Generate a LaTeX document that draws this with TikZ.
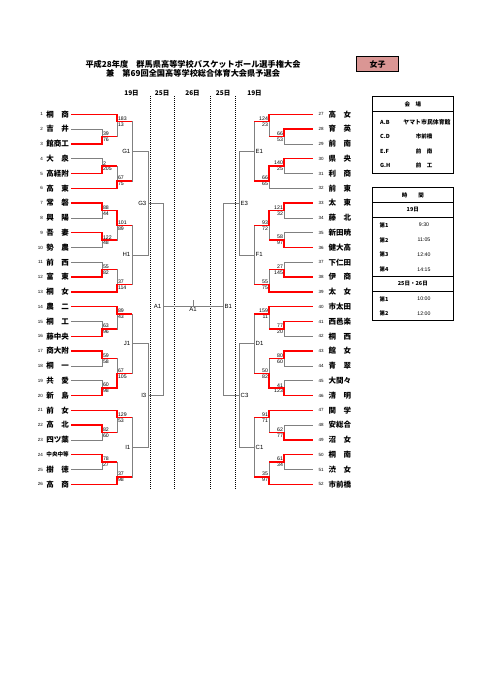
\documentclass[tikz,border=0pt]{standalone}
\usepackage{fontspec}
\setmainfont{Noto Sans CJK JP}
\newfontfamily\numfont{Liberation Sans}
\usetikzlibrary{positioning}

\definecolor{boxpink}{HTML}{DA9694}
\definecolor{losegray}{HTML}{808080}

\begin{document}
\begin{tikzpicture}[
  x=1pt, y=-1pt,
  title/.style={font=\fontsize{8.2}{9}\selectfont\bfseries, inner sep=0pt},
  day/.style={font=\fontsize{6.5}{7}\selectfont\bfseries, inner sep=0pt},
  team/.style={font=\fontsize{7.5}{8}\selectfont\bfseries, inner sep=2pt},
  lteam/.style={team, left, label distance=3pt},
  rteam/.style={team, right, label distance=0pt},
  num/.style={font=\numfont\fontsize{4.5}{5}\selectfont, inner sep=1pt},
  rnum/.style={num, text width=8pt, align=right, inner xsep=2.5pt},
  sc/.style={font=\numfont\fontsize{5.2}{5.5}\selectfont, inner sep=0.9pt},
  rnd/.style={font=\numfont\fontsize{6}{6}\selectfont, inner sep=1.5pt},
  lose/.style={draw=losegray, line width=0.75pt},
  win/.style={draw=red, line width=1.5pt},
  dots/.style={line width=1pt, dash pattern=on 1pt off 1pt},
  tbl/.style={line width=1pt},
  cell/.style={font=\fontsize{5.5}{6}\selectfont\bfseries, inner sep=0pt},
  clock/.style={font=\numfont\fontsize{5.2}{6}\selectfont, inner sep=0pt}
]
\useasboundingbox (0,0) rectangle (481,680);

% Heading
\node[title] (head1) at (193,64) {平成28年度　群馬県高等学校バスケットボール選手権大会};
\node[title] (head2) at (193,73.3) {兼　第69回全国高等学校総合体育大会県予選会};
\node[draw, line width=0.8pt, fill=boxpink, minimum width=41.6pt, minimum height=15pt,
  font=\fontsize{8}{9}\selectfont\bfseries] (girls) at (377.5,64.2) {女子};

% Days
\node[day] (d19l) at (131.5,93) {19日};
\node[day] (d25l) at (162.2,93) {25日};
\node[day] (d26) at (192.5,93) {26日};
\node[day] (d25r) at (223.2,93) {25日};
\node[day] (d19r) at (254.5,93) {19日};
\draw[dots] (150,96) -- (150,490) (174.3,96) -- (174.3,490)
  (210.7,96) -- (210.7,490) (235.7,96) -- (235.7,490);

\begin{scope}[yshift=-99.5pt, y=-14.8pt]
% Left teams
\node[lteam, label={[num]left:1}] (t1) at (71,1) {桐\quad 商};
\node[lteam, label={[num]left:2}] (t2) at (71,2) {吉\quad 井};
\node[lteam, label={[num]left:3}] (t3) at (71,3) {館商工};
\node[lteam, label={[num]left:4}] (t4) at (71,4) {大\quad 泉};
\node[lteam, label={[num]left:5}] (t5) at (71,5) {高経附};
\node[lteam, label={[num]left:6}] (t6) at (71,6) {高\quad 東};
\node[lteam, label={[num]left:7}] (t7) at (71,7) {常\quad 磐};
\node[lteam, label={[num]left:8}] (t8) at (71,8) {興\quad 陽};
\node[lteam, label={[num]left:9}] (t9) at (71,9) {吾\quad 妻};
\node[lteam, label={[num]left:10}] (t10) at (71,10) {勢\quad 農};
\node[lteam, label={[num]left:11}] (t11) at (71,11) {前\quad 西};
\node[lteam, label={[num]left:12}] (t12) at (71,12) {富\quad 東};
\node[lteam, label={[num]left:13}] (t13) at (71,13) {桐\quad 女};
\node[lteam, label={[num]left:14}] (t14) at (71,14) {農\quad 二};
\node[lteam, label={[num]left:15}] (t15) at (71,15) {桐\quad 工};
\node[lteam, label={[num]left:16}] (t16) at (71,16) {藤中央};
\node[lteam, label={[num]left:17}] (t17) at (71,17) {商大附};
\node[lteam, label={[num]left:18}] (t18) at (71,18) {桐\quad 一};
\node[lteam, label={[num]left:19}] (t19) at (71,19) {共\quad 愛};
\node[lteam, label={[num]left:20}] (t20) at (71,20) {新\quad 島};
\node[lteam, label={[num]left:21}] (t21) at (71,21) {前\quad 女};
\node[lteam, label={[num]left:22}] (t22) at (71,22) {高\quad 北};
\node[lteam, label={[num]left:23}] (t23) at (71,23) {四ツ葉};
\node[lteam, font=\fontsize{5.6}{6}\selectfont\bfseries, label={[num]left:24}] (t24) at (71,24) {中央中等};
\node[lteam, label={[num]left:25}] (t25) at (71,25) {樹\quad 徳};
\node[lteam, label={[num]left:26}] (t26) at (71,26) {高\quad 商};

% Right teams
\node[rteam, label={[rnum, name=n27]left:27}] (t27) at (326.3,1) {高\quad 女};
\node[rteam, label={[rnum, name=n28]left:28}] (t28) at (326.3,2) {育\quad 英};
\node[rteam, label={[rnum, name=n29]left:29}] (t29) at (326.3,3) {前\quad 南};
\node[rteam, label={[rnum, name=n30]left:30}] (t30) at (326.3,4) {県\quad 央};
\node[rteam, label={[rnum, name=n31]left:31}] (t31) at (326.3,5) {利\quad 商};
\node[rteam, label={[rnum, name=n32]left:32}] (t32) at (326.3,6) {前\quad 東};
\node[rteam, label={[rnum, name=n33]left:33}] (t33) at (326.3,7) {太\quad 東};
\node[rteam, label={[rnum, name=n34]left:34}] (t34) at (326.3,8) {藤\quad 北};
\node[rteam, label={[rnum, name=n35]left:35}] (t35) at (326.3,9) {新田暁};
\node[rteam, label={[rnum, name=n36]left:36}] (t36) at (326.3,10) {健大高};
\node[rteam, label={[rnum, name=n37]left:37}] (t37) at (326.3,11) {下仁田};
\node[rteam, label={[rnum, name=n38]left:38}] (t38) at (326.3,12) {伊\quad 商};
\node[rteam, label={[rnum, name=n39]left:39}] (t39) at (326.3,13) {太\quad 女};
\node[rteam, label={[rnum, name=n40]left:40}] (t40) at (326.3,14) {市太田};
\node[rteam, label={[rnum, name=n41]left:41}] (t41) at (326.3,15) {西邑楽};
\node[rteam, label={[rnum, name=n42]left:42}] (t42) at (326.3,16) {桐\quad 西};
\node[rteam, label={[rnum, name=n43]left:43}] (t43) at (326.3,17) {館\quad 女};
\node[rteam, label={[rnum, name=n44]left:44}] (t44) at (326.3,18) {青\quad 翠};
\node[rteam, label={[rnum, name=n45]left:45}] (t45) at (326.3,19) {大間々};
\node[rteam, label={[rnum, name=n46]left:46}] (t46) at (326.3,20) {清\quad 明};
\node[rteam, label={[rnum, name=n47]left:47}] (t47) at (326.3,21) {関\quad 学};
\node[rteam, label={[rnum, name=n48]left:48}] (t48) at (326.3,22) {安総合};
\node[rteam, label={[rnum, name=n49]left:49}] (t49) at (326.3,23) {沼\quad 女};
\node[rteam, label={[rnum, name=n50]left:50}] (t50) at (326.3,24) {桐\quad 南};
\node[rteam, label={[rnum, name=n51]left:51}] (t51) at (326.3,25) {渋\quad 女};
\node[rteam, label={[rnum, name=n52]left:52}] (t52) at (326.3,26) {市前橋};

% Left matches
\coordinate[label={[sc]above right:39}, label={[sc]below right:76}] (m23) at (102,2.5);
\coordinate[label={[sc]above right:183}, label={[sc]below right:13}] (m13) at (117,1.5);
\coordinate[label={[sc]above right:2}, label={[sc]below right:205}] (m45) at (102,4.5);
\coordinate[label={[sc]above right:67}, label={[sc]below right:75}] (m46) at (117,5.5);
\coordinate[label={[rnd]left:G1}] (G1) at (132,3.5);
\coordinate[label={[sc]above right:88}, label={[sc]below right:44}] (m78) at (102,7.5);
\coordinate[label={[sc]above right:122}, label={[sc]below right:48}] (m910) at (102,9.5);
\coordinate[label={[sc]above right:101}, label={[sc]below right:89}] (m710) at (117,8.5);
\coordinate[label={[sc]above right:55}, label={[sc]below right:82}] (m1112) at (102,11.5);
\coordinate[label={[sc]above right:37}, label={[sc]below right:114}] (m1113) at (117,12.5);
\coordinate[label={[rnd]left:H1}] (H1) at (132,10.5);
\coordinate[label={[rnd]left:G3}] (G3) at (148,7);
\coordinate[label={[sc]above right:63}, label={[sc]below right:96}] (m1516) at (102,15.5);
\coordinate[label={[sc]above right:89}, label={[sc]below right:43}] (m1416) at (117,14.5);
\coordinate[label={[sc]above right:59}, label={[sc]below right:58}] (m1718) at (102,17.5);
\coordinate[label={[sc]above right:60}, label={[sc]below right:98}] (m1920) at (102,19.5);
\coordinate[label={[sc]above right:67}, label={[sc]below right:105}] (m1720) at (117,18.5);
\coordinate[label={[rnd]left:J1}] (J1) at (132,16.5);
\coordinate[label={[sc]above right:82}, label={[sc]below right:60}] (m2223) at (102,22.5);
\coordinate[label={[sc]above right:129}, label={[sc]below right:53}] (m2123) at (117,21.5);
\coordinate[label={[sc]above right:78}, label={[sc]below right:27}] (m2425) at (102,24.5);
\coordinate[label={[sc]above right:37}, label={[sc]below right:98}] (m2426) at (117,25.5);
\coordinate[label={[rnd]left:I1}] (I1) at (132,23.5);
\coordinate[label={[rnd]left:I3}] (I3) at (148,20);
\coordinate[label={[rnd]left:A1}] (A1) at (163,13.95);

% Right matches
\coordinate[label={[sc]above left:66}, label={[sc]below left:53}] (m2829) at (284,2.5);
\coordinate[label={[sc]above left:124}, label={[sc]below left:23}] (m2729) at (269,1.5);
\coordinate[label={[sc]above left:140}, label={[sc]below left:25}] (m3031) at (284,4.5);
\coordinate[label={[sc]above left:66}, label={[sc]below left:65}] (m3032) at (269,5.5);
\coordinate[label={[rnd]right:E1}] (E1) at (254,3.5);
\coordinate[label={[sc]above left:121}, label={[sc]below left:32}] (m3334) at (284,7.5);
\coordinate[label={[sc]above left:58}, label={[sc]below left:97}] (m3536) at (284,9.5);
\coordinate[label={[sc]above left:93}, label={[sc]below left:72}] (m3336) at (269,8.5);
\coordinate[label={[sc]above left:27}, label={[sc]below left:145}] (m3738) at (284,11.5);
\coordinate[label={[sc]above left:55}, label={[sc]below left:75}] (m3739) at (269,12.5);
\coordinate[label={[rnd]right:F1}] (F1) at (254,10.5);
\coordinate[label={[rnd]right:E3}] (E3) at (239,7);
\coordinate[label={[sc]above left:77}, label={[sc]below left:20}] (m4142) at (284,15.5);
\coordinate[label={[sc]above left:159}, label={[sc]below left:11}] (m4042) at (269,14.5);
\coordinate[label={[sc]above left:80}, label={[sc]below left:60}] (m4344) at (284,17.5);
\coordinate[label={[sc]above left:41}, label={[sc]below left:123}] (m4546) at (284,19.5);
\coordinate[label={[sc]above left:50}, label={[sc]below left:82}] (m4346) at (269,18.5);
\coordinate[label={[rnd]right:D1}] (D1) at (254,16.5);
\coordinate[label={[sc]above left:62}, label={[sc]below left:77}] (m4849) at (284,22.5);
\coordinate[label={[sc]above left:91}, label={[sc]below left:71}] (m4749) at (269,21.5);
\coordinate[label={[sc]above left:61}, label={[sc]below left:34}] (m5051) at (284,24.5);
\coordinate[label={[sc]above left:35}, label={[sc]below left:97}] (m5052) at (269,25.5);
\coordinate[label={[rnd]right:C1}] (C1) at (254,23.5);
\coordinate[label={[rnd]right:C3}] (C3) at (239,20);
\coordinate[label={[rnd]right:B1}] (B1) at (223,13.95);
\coordinate[label={[rnd]below:A1}] (final) at (193,13.95);

% Bracket lines, left
\draw[lose] (t2.east) -| (m23) (t3.east) -| (m23) (t1.east) -| (m13) (m23) -| (m13)
  (t4.east) -| (m45) (t5.east) -| (m45) (m45) -| (m46) (t6.east) -| (m46)
  (m13) -| (G1) (m46) -| (G1);
\draw[lose] (t7.east) -| (m78) (t8.east) -| (m78) (t9.east) -| (m910) (t10.east) -| (m910)
  (m78) -| (m710) (m910) -| (m710) (t11.east) -| (m1112) (t12.east) -| (m1112)
  (m1112) -| (m1113) (t13.east) -| (m1113) (m710) -| (H1) (m1113) -| (H1);
\draw[lose] (t15.east) -| (m1516) (t16.east) -| (m1516) (t14.east) -| (m1416) (m1516) -| (m1416)
  (t17.east) -| (m1718) (t18.east) -| (m1718) (t19.east) -| (m1920) (t20.east) -| (m1920)
  (m1718) -| (m1720) (m1920) -| (m1720) (m1416) -| (J1) (m1720) -| (J1);
\draw[lose] (t22.east) -| (m2223) (t23.east) -| (m2223) (t21.east) -| (m2123) (m2223) -| (m2123)
  (t24.east) -| (m2425) (t25.east) -| (m2425) (m2425) -| (m2426) (t26.east) -| (m2426)
  (m2123) -| (I1) (m2426) -| (I1);
\draw[lose] (G1) -| (G3) (H1) -| (G3) (J1) -| (I3) (I1) -| (I3) (G3) -| (A1) (I3) -| (A1);

% Bracket lines, right
\draw[lose] (n28.west) -| (m2829) (n29.west) -| (m2829) (n27.west) -| (m2729) (m2829) -| (m2729)
  (n30.west) -| (m3031) (n31.west) -| (m3031) (m3031) -| (m3032) (n32.west) -| (m3032)
  (m2729) -| (E1) (m3032) -| (E1);
\draw[lose] (n33.west) -| (m3334) (n34.west) -| (m3334) (n35.west) -| (m3536) (n36.west) -| (m3536)
  (m3334) -| (m3336) (m3536) -| (m3336) (n37.west) -| (m3738) (n38.west) -| (m3738)
  (m3738) -| (m3739) (n39.west) -| (m3739) (m3336) -| (F1) (m3739) -| (F1);
\draw[lose] (n41.west) -| (m4142) (n42.west) -| (m4142) (n40.west) -| (m4042) (m4142) -| (m4042)
  (n43.west) -| (m4344) (n44.west) -| (m4344) (n45.west) -| (m4546) (n46.west) -| (m4546)
  (m4344) -| (m4346) (m4546) -| (m4346) (m4042) -| (D1) (m4346) -| (D1);
\draw[lose] (n48.west) -| (m4849) (n49.west) -| (m4849) (n47.west) -| (m4749) (m4849) -| (m4749)
  (n50.west) -| (m5051) (n51.west) -| (m5051) (m5051) -| (m5052) (n52.west) -| (m5052)
  (m4749) -| (C1) (m5052) -| (C1);
\draw[lose] (E1) -| (E3) (F1) -| (E3) (D1) -| (C3) (C1) -| (C3) (E3) -| (B1) (C3) -| (B1);

% Final
\draw[lose] (A1) -- (B1) (final) -- ([yshift=6.4pt]final);

% Winners, left
\draw[win] (t3.east) -| (m23) -- (m23 -| m13);
\draw[win] (t1.east) -| (m13) -- (m13 -| G1);
\draw[win] (t5.east) -| (m45) -- (m45 -| m46);
\draw[win] (t6.east) -| (m46) -- (m46 -| G1);
\draw[win] (t7.east) -| (m78) -- (m78 -| m710);
\draw[win] (t9.east) -| (m910) -- (m910 -| m710);
\draw[win] (m78) -| (m710) -- (m710 -| H1);
\draw[win] (t12.east) -| (m1112) -- (m1112 -| m1113);
\draw[win] (t13.east) -| (m1113) -- (m1113 -| H1);
\draw[win] (t16.east) -| (m1516) -- (m1516 -| m1416);
\draw[win] (t14.east) -| (m1416) -- (m1416 -| J1);
\draw[win] (t17.east) -| (m1718) -- (m1718 -| m1720);
\draw[win] (t20.east) -| (m1920) -- (m1920 -| m1720);
\draw[win] (m1920) -| (m1720) -- (m1720 -| J1);
\draw[win] (t22.east) -| (m2223) -- (m2223 -| m2123);
\draw[win] (t21.east) -| (m2123) -- (m2123 -| I1);
\draw[win] (t24.east) -| (m2425) -- (m2425 -| m2426);
\draw[win] (t26.east) -| (m2426) -- (m2426 -| I1);

% Winners, right
\draw[win] (n28.west) -| (m2829) -- (m2829 -| m2729);
\draw[win] (n27.west) -| (m2729) -- (m2729 -| E1);
\draw[win] (n30.west) -| (m3031) -- (m3031 -| m3032);
\draw[win] (m3031) -| (m3032) -- (m3032 -| E1);
\draw[win] (n33.west) -| (m3334) -- (m3334 -| m3336);
\draw[win] (n36.west) -| (m3536) -- (m3536 -| m3336);
\draw[win] (m3334) -| (m3336) -- (m3336 -| F1);
\draw[win] (n38.west) -| (m3738) -- (m3738 -| m3739);
\draw[win] (n39.west) -| (m3739) -- (m3739 -| F1);
\draw[win] (n41.west) -| (m4142) -- (m4142 -| m4042);
\draw[win] (n40.west) -| (m4042) -- (m4042 -| D1);
\draw[win] (n43.west) -| (m4344) -- (m4344 -| m4346);
\draw[win] (n46.west) -| (m4546) -- (m4546 -| m4346);
\draw[win] (m4546) -| (m4346) -- (m4346 -| D1);
\draw[win] (n49.west) -| (m4849) -- (m4849 -| m4749);
\draw[win] (n47.west) -| (m4749) -- (m4749 -| C1);
\draw[win] (n50.west) -| (m5051) -- (m5051 -| m5052);
\draw[win] (n52.west) -| (m5052) -- (m5052 -| C1);
\end{scope}

% Venue table
\draw[tbl] (372.3,96.7) rectangle (453.3,173.3);
\draw[tbl] (372.3,111.7) -- (453.3,111.7);
\node[cell] (venuehead) at (412.8,104.2) {会　場};
\node[cell, right] (vab) at (380,122.7) {A.B};
\node[cell, font=\fontsize{5.9}{6}\selectfont\bfseries] (vabt) at (427,122.7) {ヤマト市民体育館};
\node[cell, right] (vcd) at (380,136.7) {C.D};
\node[cell] (vcdt) at (424,136.7) {市前橋};
\node[cell, right] (vef) at (380,151) {E.F};
\node[cell] (veft) at (424,151) {前　南};
\node[cell, right] (vgh) at (380,165) {G.H};
\node[cell] (vght) at (424,165) {前　工};

% Time table
\draw[tbl] (372.3,187.3) rectangle (453.3,320);
\draw[tbl] (372.3,202.7) -- (453.3,202.7) (372.3,217.3) -- (453.3,217.3)
  (372.3,276.7) -- (453.3,276.7) (372.3,291) -- (453.3,291);
\node[cell] (timehead) at (412.8,195) {時\hspace{2em}間};
\node[cell] (tday1) at (412.8,210) {19日};
\node[cell, right] (g1) at (379.5,225) {第1};
\node[clock] (g1t) at (424,225) {9:30};
\node[cell, right] (g2) at (379.5,240) {第2};
\node[clock] (g2t) at (424,240) {11:05};
\node[cell, right] (g3) at (379.5,254.5) {第3};
\node[clock] (g3t) at (424,254.5) {12:40};
\node[cell, right] (g4) at (379.5,269.3) {第4};
\node[clock] (g4t) at (424,269.3) {14:15};
\node[cell] (tday2) at (412.8,284) {25日・26日};
\node[cell, right] (h1) at (379.5,299) {第1};
\node[clock] (h1t) at (424,299) {10:00};
\node[cell, right] (h2) at (379.5,313.3) {第2};
\node[clock] (h2t) at (424,313.3) {12:00};
\end{tikzpicture}
\end{document}
